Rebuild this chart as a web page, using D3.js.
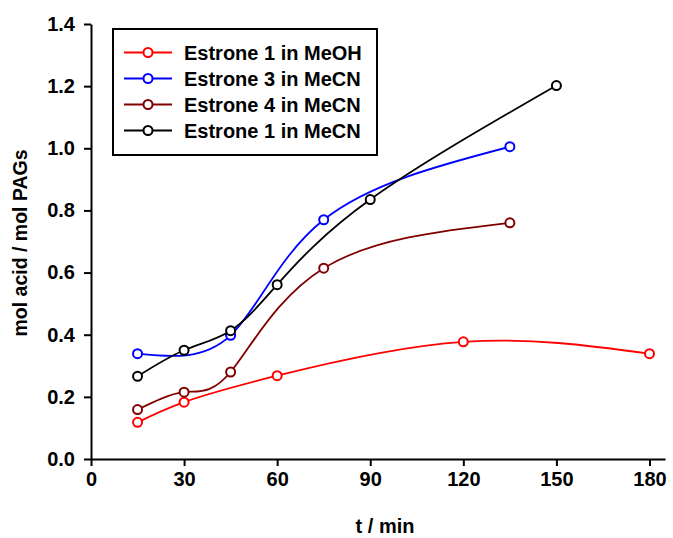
<!DOCTYPE html>
<html lang="en">
<head>
  <meta charset="utf-8">
  <title>Acid generation vs time</title>
  <style>
    body { margin: 0; background: #fff; }
    text { font-family: "Liberation Sans", Arial, sans-serif; font-weight: bold; }
  </style>
</head>
<body>
  <script src="https://cdnjs.cloudflare.com/ajax/libs/d3/7.8.5/d3.min.js"></script>
  <script>
  // data
  const seriesNames = ["Estrone 1 in MeOH", "Estrone 3 in MeCN", "Estrone 4 in MeCN", "Estrone 1 in MeCN"];
  const seriesColors = ["#ff0000", "#0000ff", "#800000", "#000000"];
  const meohT = [15, 30, 60, 120, 180];
  const meohY = [0.118, 0.183, 0.268, 0.377, 0.339];
  const e3T = [15, 45, 75, 135];
  const e3Y = [0.339, 0.398, 0.770, 1.005];
  const e4T = [15, 30, 45, 75, 135];
  const e4Y = [0.159, 0.215, 0.280, 0.614, 0.760];
  const e1T = [15, 30, 45, 60, 90, 150];
  const e1Y = [0.266, 0.350, 0.413, 0.561, 0.835, 1.202];
  const xTicks = [0, 30, 60, 90, 120, 150, 180];
  const yTicks = [0, 0.2, 0.4, 0.6, 0.8, 1.0, 1.2, 1.4];

  const series = [
    { t: meohT, y: meohY },
    { t: e3T, y: e3Y },
    { t: e4T, y: e4Y },
    { t: e1T, y: e1Y }
  ].map((s, i) => ({
    name: seriesNames[i],
    color: seriesColors[i],
    points: s.t.map((t, j) => ({ t: t, v: s.y[j] }))
  }));

  const W = 673, H = 538;
  const svg = d3.select("body").append("svg")
    .attr("width", W)
    .attr("height", H);

  const x = d3.scaleLinear().domain([0, 185]).range([91, 665]);
  const y = d3.scaleLinear().domain([0, 1.4]).range([459, 24]);

  const xAxis = svg.append("g")
    .attr("transform", `translate(0, ${y(0)})`)
    .call(d3.axisBottom(x).tickValues(xTicks).tickFormat(d3.format("d")).tickSizeInner(7).tickSizeOuter(0).tickPadding(6));

  const yAxis = svg.append("g")
    .attr("transform", `translate(${x(0)}, 0)`)
    .call(d3.axisLeft(y).tickValues(yTicks).tickFormat(d3.format(".1f")).tickSizeInner(7).tickSizeOuter(0).tickPadding(9));

  [xAxis, yAxis].forEach(g => {
    g.select(".domain").attr("stroke", "#000").attr("stroke-width", 2);
    g.selectAll(".tick line").attr("stroke", "#000").attr("stroke-width", 2);
    g.selectAll(".tick text")
      .attr("fill", "#000")
      .style("font-size", "20px")
      .style("font-family", "'Liberation Sans', Arial, sans-serif")
      .style("font-weight", "bold");
  });

  svg.append("text")
    .attr("x", 385)
    .attr("y", 533)
    .attr("text-anchor", "middle")
    .style("font-size", "20px")
    .text("t / min");

  svg.append("text")
    .attr("transform", "translate(27, 243) rotate(-90)")
    .attr("text-anchor", "middle")
    .style("font-size", "19.5px")
    .text("mol acid / mol PAGs");

  const line = d3.line()
    .x(d => x(d.t))
    .y(d => y(d.v))
    .curve(d3.curveNatural);

  const groups = svg.selectAll(".series")
    .data(series)
    .enter()
    .append("g")
    .attr("class", "series");

  groups.append("path")
    .attr("d", d => line(d.points))
    .attr("fill", "none")
    .attr("stroke", d => d.color)
    .attr("stroke-width", 1.8);

  groups.selectAll("circle")
    .data(d => d.points.map(p => ({ p: p, color: d.color })))
    .enter()
    .append("circle")
    .attr("cx", d => x(d.p.t))
    .attr("cy", d => y(d.p.v))
    .attr("r", 4.5)
    .attr("fill", "#fff")
    .attr("stroke", d => d.color)
    .attr("stroke-width", 2);

  // legend
  const legend = svg.append("g");
  legend.append("rect")
    .attr("x", 113)
    .attr("y", 29)
    .attr("width", 264)
    .attr("height", 126)
    .attr("fill", "#fff")
    .attr("stroke", "#000")
    .attr("stroke-width", 2);

  const items = legend.selectAll(".item")
    .data(series)
    .enter()
    .append("g")
    .attr("transform", (d, i) => `translate(0, ${52.5 + i * 26})`);

  items.append("line")
    .attr("x1", 124).attr("x2", 172)
    .attr("stroke", d => d.color)
    .attr("stroke-width", 1.8);

  items.append("circle")
    .attr("cx", 148)
    .attr("r", 4.5)
    .attr("fill", "#fff")
    .attr("stroke", d => d.color)
    .attr("stroke-width", 2);

  items.append("text")
    .attr("x", 184)
    .attr("dy", "0.35em")
    .style("font-size", "20px")
    .text(d => d.name);
  </script>
</body>
</html>
